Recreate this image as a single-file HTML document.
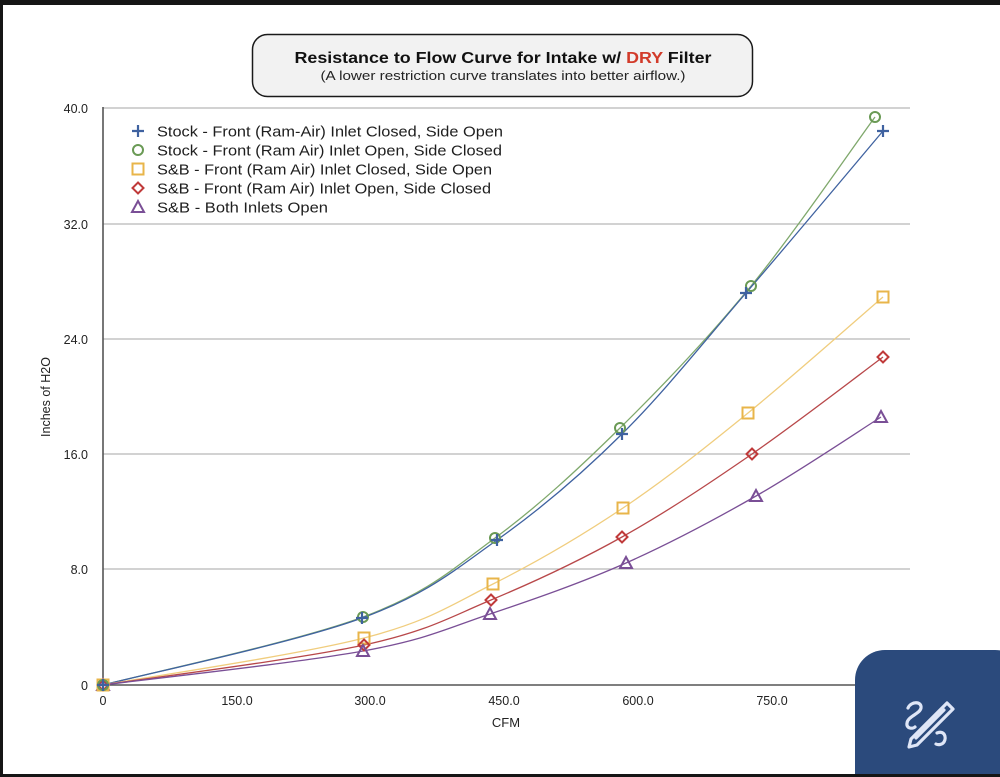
<!DOCTYPE html>
<html><head><meta charset="utf-8">
<style>
html,body{margin:0;padding:0;background:#fff;}
svg{display:block;font-family:"Liberation Sans",Arial,sans-serif;}
</style></head>
<body>
<svg width="1000" height="777" viewBox="0 0 1000 777" xmlns="http://www.w3.org/2000/svg">
<rect x="0" y="0" width="1000" height="777" fill="#ffffff"/>
<!-- frame -->
<rect x="0" y="0" width="1000" height="5" fill="#151515"/>
<rect x="0" y="0" width="3" height="777" fill="#151515"/>

<!-- title box -->
<rect x="252.5" y="34.5" width="500" height="62" rx="15" ry="15" fill="#f2f2f2" stroke="#1a1a1a" stroke-width="1.5"/>
<text x="503" y="63" text-anchor="middle" font-size="15.5" font-weight="bold" fill="#111" textLength="417" lengthAdjust="spacingAndGlyphs">Resistance to Flow Curve for Intake w/ <tspan fill="#d23b2a">DRY</tspan> Filter</text>
<text x="503" y="80" text-anchor="middle" font-size="13" fill="#222" textLength="365" lengthAdjust="spacingAndGlyphs">(A lower restriction curve translates into better airflow.)</text>

<!-- gridlines -->
<g stroke="#b8b8b8" stroke-width="1.2">
<line x1="103" y1="108" x2="910" y2="108"/>
<line x1="103" y1="224" x2="910" y2="224"/>
<line x1="103" y1="339" x2="910" y2="339"/>
<line x1="103" y1="454" x2="910" y2="454"/>
<line x1="103" y1="569" x2="910" y2="569"/>
</g>
<!-- axes -->
<line x1="103" y1="107" x2="103" y2="686" stroke="#555" stroke-width="1.6"/>
<line x1="102" y1="685" x2="910" y2="685" stroke="#555" stroke-width="1.6"/>

<!-- y tick labels -->
<g font-size="12.5" fill="#222" text-anchor="end">
<text x="88" y="113">40.0</text>
<text x="88" y="229">32.0</text>
<text x="88" y="344">24.0</text>
<text x="88" y="459">16.0</text>
<text x="88" y="574">8.0</text>
<text x="88" y="690">0</text>
</g>
<!-- x tick labels -->
<g font-size="12.5" fill="#222" text-anchor="middle">
<text x="103" y="705">0</text>
<text x="237" y="705">150.0</text>
<text x="370" y="705">300.0</text>
<text x="504" y="705">450.0</text>
<text x="638" y="705">600.0</text>
<text x="772" y="705">750.0</text>
</g>
<text x="506" y="727" text-anchor="middle" font-size="13" fill="#222">CFM</text>
<text transform="translate(50,397) rotate(-90)" text-anchor="middle" font-size="12.5" fill="#222">Inches of H2O</text>

<!-- curves -->
<g fill="none" stroke-width="1.3">
<path stroke="#7fa86c" d="M103,685 C146.3,673.7 297.7,641.5 363,617 C428.3,592.5 452.2,569.5 495,538 C537.8,506.5 577.3,470 620,428 C662.7,386 708.5,337.8 751,286 C793.5,234.2 854.3,145.2 875,117"/>
<path stroke="#3f62a0" d="M103,685 C146.2,673.8 296.3,642.2 362,618 C427.7,593.8 453.7,570.7 497,540 C540.3,509.3 580.5,475.2 622,434 C663.5,392.8 702.5,343.5 746,293 C789.5,242.5 860.2,158 883,131"/>
<path stroke="#f0cd7e" d="M103,685 C146.5,677.2 299,654.8 364,638 C429,621.2 449.8,605.7 493,584 C536.2,562.3 580.5,536.5 623,508 C665.5,479.5 704.7,448.2 748,413 C791.3,377.8 860.5,316.3 883,297"/>
<path stroke="#b8484a" d="M103,685 C146.5,678.3 299.3,659.2 364,645 C428.7,630.8 448,618 491,600 C534,582 578.5,561.3 622,537 C665.5,512.7 708.5,484 752,454 C795.5,424 861.2,373.2 883,357"/>
<path stroke="#7a4f96" d="M103,685 C146.3,679.3 298.5,662.8 363,651 C427.5,639.2 446.2,628.7 490,614 C533.8,599.3 581.7,582.7 626,563 C670.3,543.3 713.5,520.3 756,496 C798.5,471.7 860.2,430.2 881,417"/>
</g>

<!-- markers -->
<defs>
<g id="mplus"><path d="M-6,0 H6 M0,-6 V6" stroke="#3f62a0" stroke-width="2.2" fill="none"/></g>
<g id="mcirc"><circle r="5" stroke="#6a9a55" stroke-width="2" fill="none"/></g>
<g id="msq"><rect x="-5.5" y="-5.5" width="11" height="11" stroke="#e8b54a" stroke-width="2" fill="none"/></g>
<g id="mdia"><path d="M0,-5.5 L5.5,0 L0,5.5 L-5.5,0 Z" stroke="#c03a3a" stroke-width="2" fill="none"/></g>
<g id="mtri"><path d="M0,-6 L6,5 L-6,5 Z" stroke="#7a4f96" stroke-width="2" fill="none"/></g>
</defs>
<use href="#mtri" x="103" y="685"/>
<use href="#mdia" x="103" y="685"/>
<use href="#msq" x="103" y="685"/>
<use href="#mcirc" x="103" y="685"/>
<use href="#mplus" x="103" y="685"/>

<use href="#mcirc" x="363" y="617"/><use href="#mcirc" x="495" y="538"/><use href="#mcirc" x="620" y="428"/><use href="#mcirc" x="751" y="286"/><use href="#mcirc" x="875" y="117"/>
<use href="#mplus" x="362" y="618"/><use href="#mplus" x="497" y="540"/><use href="#mplus" x="622" y="434"/><use href="#mplus" x="746" y="293"/><use href="#mplus" x="883" y="131"/>
<use href="#msq" x="364" y="638"/><use href="#msq" x="493" y="584"/><use href="#msq" x="623" y="508"/><use href="#msq" x="748" y="413"/><use href="#msq" x="883" y="297"/>
<use href="#mdia" x="364" y="645"/><use href="#mdia" x="491" y="600"/><use href="#mdia" x="622" y="537"/><use href="#mdia" x="752" y="454"/><use href="#mdia" x="883" y="357"/>
<use href="#mtri" x="363" y="651"/><use href="#mtri" x="490" y="614"/><use href="#mtri" x="626" y="563"/><use href="#mtri" x="756" y="496"/><use href="#mtri" x="881" y="417"/>

<!-- legend -->
<g font-size="15" fill="#1e1e1e">
<use href="#mplus" x="138" y="131"/>
<text x="157" y="136.5" textLength="346" lengthAdjust="spacingAndGlyphs">Stock - Front (Ram-Air) Inlet Closed, Side Open</text>
<use href="#mcirc" x="138" y="150"/>
<text x="157" y="155.5" textLength="345" lengthAdjust="spacingAndGlyphs">Stock - Front (Ram Air) Inlet Open, Side Closed</text>
<use href="#msq" x="138" y="169"/>
<text x="157" y="174.5" textLength="335" lengthAdjust="spacingAndGlyphs">S&amp;B - Front (Ram Air) Inlet Closed, Side Open</text>
<use href="#mdia" x="138" y="188"/>
<text x="157" y="193.5" textLength="334" lengthAdjust="spacingAndGlyphs">S&amp;B - Front (Ram Air) Inlet Open, Side Closed</text>
<use href="#mtri" x="138" y="207"/>
<text x="157" y="212.5" textLength="171" lengthAdjust="spacingAndGlyphs">S&amp;B - Both Inlets Open</text>
</g>

<!-- floating button -->
<rect x="855" y="650" width="170" height="160" rx="30" ry="30" fill="#2b4a7c"/>
<g fill="none" stroke="#dfe6f7" stroke-width="3.2" stroke-linecap="round" stroke-linejoin="round">
<path d="M908,708 C911,701 922,701 921,708 C920,714 908,716 907,723 C906,729 913,729 915,727"/>
<path d="M937,733 C944,730 947,737 944,742 C942,745 938,745 936,744"/>
<path d="M947,703 L953,709 L917,745 L909,747 L911,739 Z"/>
<path d="M944,710 L916,738"/>
</g>
<rect x="0" y="774" width="1000" height="3" fill="#151515"/>
</svg>
</body></html>
